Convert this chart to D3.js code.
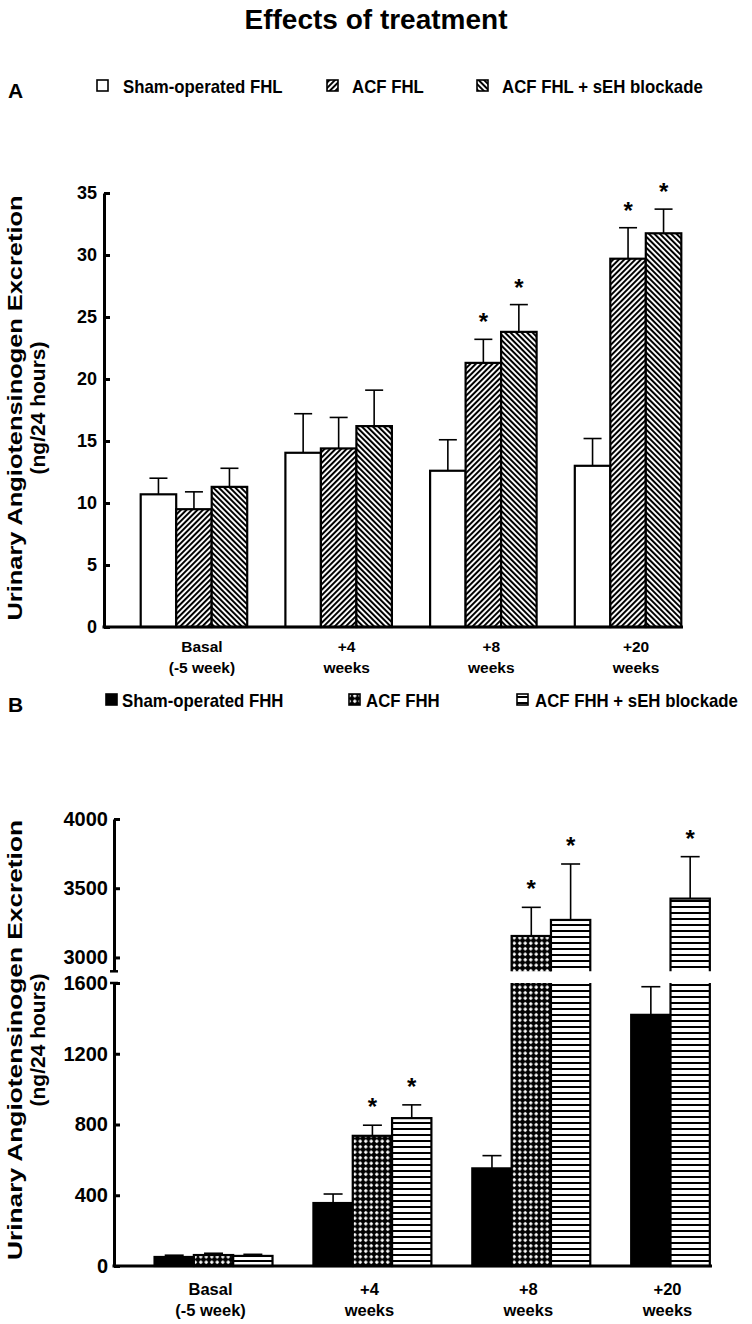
<!DOCTYPE html>
<html><head><meta charset="utf-8">
<script src="https://cdn.jsdelivr.net/npm/d3@7"></script>
<style>body{margin:0;background:#fff}svg{display:block}text{font-family:"Liberation Sans",Arial,sans-serif;font-weight:bold;fill:#000}</style>
</head><body>
<svg id="c" width="752" height="1324"></svg>
<script>
// ---------- data ----------
const categories = [["Basal","(-5 week)"],["+4","weeks"],["+8","weeks"],["+20","weeks"]];

const seriesA = ["Sham-operated FHL","ACF FHL","ACF FHL + sEH blockade"];
const shamFHL_mean = [10.7, 14.05, 12.6, 13.0];
const shamFHL_sem  = [1.3, 3.15, 2.5, 2.2];
const acfFHL_mean  = [9.5, 14.4, 21.3, 29.7];
const acfFHL_sem   = [1.4, 2.5, 1.9, 2.5];
const sehFHL_mean  = [11.3, 16.2, 23.8, 31.75];
const sehFHL_sem   = [1.5, 2.9, 2.2, 1.95];
const acfFHL_sig   = [0, 0, 1, 1];
const sehFHL_sig   = [0, 0, 1, 1];
const ticksA = [0,5,10,15,20,25,30,35];

const seriesB = ["Sham-operated FHH","ACF FHH","ACF FHH + sEH blockade"];
const shamFHH_mean = [51, 356, 552, 1420];
const shamFHH_sem  = [10, 51, 72, 159];
const acfFHH_mean  = [62, 736, 3155, null];
const acfFHH_sem   = [10, 60, 207, null];
const sehFHH_mean  = [57, 836, 3271, 3425];
const sehFHH_sem   = [9, 75, 404, 303];
const shamFHH_sig  = [0, 0, 0, 0];
const acfFHH_sig   = [0, 1, 1, 0];
const sehFHH_sig   = [0, 1, 1, 1];
const ticksBLow = [0,400,800,1200,1600];
const ticksBHigh = [3000,3500,4000];

const yTitle1 = "Urinary Angiotensinogen Excretion";
const yTitle2 = "(ng/24 hours)";
const chartTitle = "Effects of treatment";

// ---------- setup ----------
const svg = d3.select("#c");
const defs = svg.append("defs");
function stripe(id, angle, period, w){
  const p = defs.append("pattern").attr("id",id).attr("patternUnits","userSpaceOnUse")
    .attr("width",period).attr("height",period).attr("patternTransform",`rotate(${angle})`);
  p.append("rect").attr("width",period).attr("height",period).attr("fill","#fff");
  p.append("rect").attr("width",w).attr("height",period).attr("fill","#000");
}
stripe("fwd",45,3.9,2.0);
stripe("bwd",-45,3.9,2.0);
{
  const p = defs.append("pattern").attr("id","hlines").attr("patternUnits","userSpaceOnUse").attr("width",6).attr("height",6);
  p.append("rect").attr("width",6).attr("height",6).attr("fill","#fff");
  p.append("rect").attr("width",6).attr("height",2).attr("fill","#000");
}
{
  const p = defs.append("pattern").attr("id","xhatch").attr("patternUnits","userSpaceOnUse").attr("width",5.5).attr("height",5.5);
  p.append("rect").attr("width",5.5).attr("height",5.5).attr("fill","#000");
  p.append("path").attr("d","M2.75,0.7 L4.8,2.75 L2.75,4.8 L0.7,2.75 Z").attr("fill","#fff");
}

svg.append("text").attr("x",376).attr("y",29).attr("text-anchor","middle").attr("font-size",28).text(chartTitle);

function yAxisTitle(cx1, cx2, cy, len){
  svg.append("text").attr("transform",`translate(${cx1},${cy}) rotate(-90)`).attr("text-anchor","middle")
    .attr("dominant-baseline","central").attr("font-size",21).attr("textLength",len).attr("lengthAdjust","spacingAndGlyphs").text(yTitle1);
  svg.append("text").attr("transform",`translate(${cx2},${cy}) rotate(-90)`).attr("text-anchor","middle")
    .attr("dominant-baseline","central").attr("font-size",21).text(yTitle2);
}

function legend(names, fills, boxX, textX, y, letter, letterY){
  svg.append("text").attr("x",8).attr("y",letterY).attr("font-size",21).text(letter);
  names.forEach((n,i)=>{
    svg.append("rect").attr("x",boxX[i]).attr("y",y-6).attr("width",11).attr("height",11)
      .attr("fill",fills[i]).attr("stroke","#000").attr("stroke-width",1.6);
    svg.append("text").attr("transform",`translate(${textX[i]},${y+6.5}) scale(1,1.12)`).attr("font-size",16.8).text(n);
  });
}

function styleAxis(g, fs){
  g.select(".domain").attr("stroke","#000").attr("stroke-width",3);
  g.selectAll(".tick line").attr("stroke","#000").attr("stroke-width",3);
  g.selectAll(".tick text").attr("font-size",fs).attr("font-family",'"Liberation Sans",Arial,sans-serif').attr("font-weight","bold");
}

// ---------- Panel A ----------
{
  const fillsA = ["#fff","url(#fwd)","url(#bwd)"];
  const means = [shamFHL_mean, acfFHL_mean, sehFHL_mean];
  const sems = [shamFHL_sem, acfFHL_sem, sehFHL_sem];
  const sigs = [[0,0,0,0], acfFHL_sig, sehFHL_sig];
  legend(seriesA, fillsA, [97,327,477], [123,352,502], 86, "A", 98);
  yAxisTitle(14, 37, 408, 425);

  const x = d3.scaleBand().domain(d3.range(categories.length)).range([121.6,700.4]).paddingInner(0.264).paddingOuter(0.132);
  const xi = d3.scaleBand().domain(d3.range(3)).range([0,x.bandwidth()]);
  const y = d3.scaleLinear().domain([0,35]).range([627,193]);

  const bars = [];
  categories.forEach((c,i)=>{
    let slot=0;
    means.forEach((m,s)=>{ if(m[i]==null) return;
      bars.push({i,s,slot,v:m[i],e:sems[s][i],sig:sigs[s][i]}); slot++; });
  });
  const g = svg.append("g");
  g.selectAll("rect.bar").data(bars).join("rect").attr("class","bar")
    .attr("x",d=>x(d.i)+xi(d.slot)).attr("width",xi.bandwidth())
    .attr("y",d=>y(d.v)).attr("height",d=>y(0)-y(d.v))
    .attr("fill",d=>fillsA[d.s]).attr("stroke","#000").attr("stroke-width",2.2);
  const cx = d=>x(d.i)+xi(d.slot)+xi.bandwidth()/2;
  g.selectAll("line.eb").data(bars).join("line").attr("x1",cx).attr("x2",cx)
    .attr("y1",d=>y(d.v)).attr("y2",d=>y(d.v+d.e)).attr("stroke","#000").attr("stroke-width",1.6);
  g.selectAll("line.cap").data(bars).join("line").attr("x1",d=>cx(d)-9).attr("x2",d=>cx(d)+9)
    .attr("y1",d=>y(d.v+d.e)).attr("y2",d=>y(d.v+d.e)).attr("stroke","#000").attr("stroke-width",1.6);
  g.selectAll("text.star").data(bars.filter(d=>d.sig)).join("text").attr("class","star")
    .attr("x",cx).attr("y",d=>y(d.v+d.e)-9).attr("text-anchor","middle").attr("font-size",24).text("*");

  const ax = svg.append("g").attr("transform","translate(104,0)")
    .call(d3.axisLeft(y).tickValues(ticksA).tickFormat(d3.format("d")).tickSizeInner(-6).tickSizeOuter(0).tickPadding(7));
  styleAxis(ax,18);
  svg.append("line").attr("x1",102.5).attr("x2",683).attr("y1",y(0)).attr("y2",y(0)).attr("stroke","#000").attr("stroke-width",3);

  categories.forEach((c,i)=>{
    c.forEach((t,k)=>svg.append("text").attr("x",x(i)+x.bandwidth()/2+8).attr("y",652+k*21)
      .attr("text-anchor","middle").attr("font-size",15.5).text(t));
  });
}

// ---------- Panel B ----------
{
  const fillsB = ["#000","url(#xhatch)","url(#hlines)"];
  const means = [shamFHH_mean, acfFHH_mean, sehFHH_mean];
  const sems = [shamFHH_sem, acfFHH_sem, sehFHH_sem];
  const sigs = [shamFHH_sig, acfFHH_sig, sehFHH_sig];
  legend(seriesB, fillsB, [106,349,517], [122,366,535], 700, "B", 712);
  yAxisTitle(14, 37, 1040, 440);

  const x = d3.scaleBand().domain(d3.range(categories.length)).range([134.05,769.65]).paddingInner(0.2575).paddingOuter(0.129);
  const xi = d3.scaleBand().domain(d3.range(3)).range([0,x.bandwidth()]);
  const yL = d3.scaleLinear().domain([0,1600]).range([1266,983]);
  const yU = d3.scaleLinear().domain([2900,4000]).range([971.3,819]);
  const yAny = v => v>2900 ? yU(v) : yL(v);

  defs.append("clipPath").attr("id","clipU").append("rect").attr("x",0).attr("y",0).attr("width",752).attr("height",971.3);
  defs.append("clipPath").attr("id","clipL").append("rect").attr("x",0).attr("y",983).attr("width",752).attr("height",341);

  const bars = [];
  categories.forEach((c,i)=>{
    let slot=0;
    means.forEach((m,s)=>{ if(m[i]==null) return;
      bars.push({i,s,slot,v:m[i],e:sems[s][i],sig:sigs[s][i]}); slot++; });
  });
  const bx = d=>x(d.i)+xi(d.slot);
  const cx = d=>bx(d)+xi.bandwidth()/2;
  const gL = svg.append("g").attr("clip-path","url(#clipL)");
  gL.selectAll("rect").data(bars).join("rect").attr("x",bx).attr("width",xi.bandwidth())
    .attr("y",d=>Math.max(yL(d.v), 975)).attr("height",d=>yL(0)-Math.max(yL(d.v),975))
    .attr("fill",d=>fillsB[d.s]).attr("stroke","#000").attr("stroke-width",2.2);
  const gU = svg.append("g").attr("clip-path","url(#clipU)");
  gU.selectAll("rect").data(bars.filter(d=>d.v>2900)).join("rect").attr("x",bx).attr("width",xi.bandwidth())
    .attr("y",d=>yU(d.v)).attr("height",d=>yU(2900)+6-yU(d.v))
    .attr("fill",d=>fillsB[d.s]).attr("stroke","#000").attr("stroke-width",2.2);

  const g = svg.append("g");
  g.selectAll("line.eb").data(bars).join("line").attr("x1",cx).attr("x2",cx)
    .attr("y1",d=>yAny(d.v)).attr("y2",d=>yAny(d.v+d.e)).attr("stroke","#000").attr("stroke-width",1.6);
  g.selectAll("line.cap").data(bars).join("line").attr("x1",d=>cx(d)-9.5).attr("x2",d=>cx(d)+9.5)
    .attr("y1",d=>yAny(d.v+d.e)).attr("y2",d=>yAny(d.v+d.e)).attr("stroke","#000").attr("stroke-width",1.6);
  g.selectAll("text.star").data(bars.filter(d=>d.sig)).join("text")
    .attr("x",cx).attr("y",d=>yAny(d.v+d.e)-10).attr("text-anchor","middle").attr("font-size",24).text("*");

  const fmt = d3.format("d");
  const axU = svg.append("g").attr("transform","translate(114,0)")
    .call(d3.axisLeft(yU).tickValues(ticksBHigh).tickFormat(fmt).tickSizeInner(-6).tickSizeOuter(0).tickPadding(6));
  styleAxis(axU,20);
  const axL = svg.append("g").attr("transform","translate(114,0)")
    .call(d3.axisLeft(yL).tickValues(ticksBLow).tickFormat(fmt).tickSizeInner(-6).tickSizeOuter(0).tickPadding(6));
  styleAxis(axL,20);
  [yU(2900), yL(1600)].forEach(yy=>svg.append("line").attr("x1",110).attr("x2",118).attr("y1",yy).attr("y2",yy).attr("stroke","#000").attr("stroke-width",2.5));
  svg.append("line").attr("x1",112.5).attr("x2",712).attr("y1",yL(0)).attr("y2",yL(0)).attr("stroke","#000").attr("stroke-width",3);

  categories.forEach((c,i)=>{
    const present = bars.filter(d=>d.i===i);
    const mid = (bx(present[0]) + bx(present[present.length-1]) + xi.bandwidth())/2 - 3;
    c.forEach((t,k)=>svg.append("text").attr("x",mid).attr("y",1295+k*21)
      .attr("text-anchor","middle").attr("font-size",16.5).text(t));
  });
}
</script>
</body></html>
